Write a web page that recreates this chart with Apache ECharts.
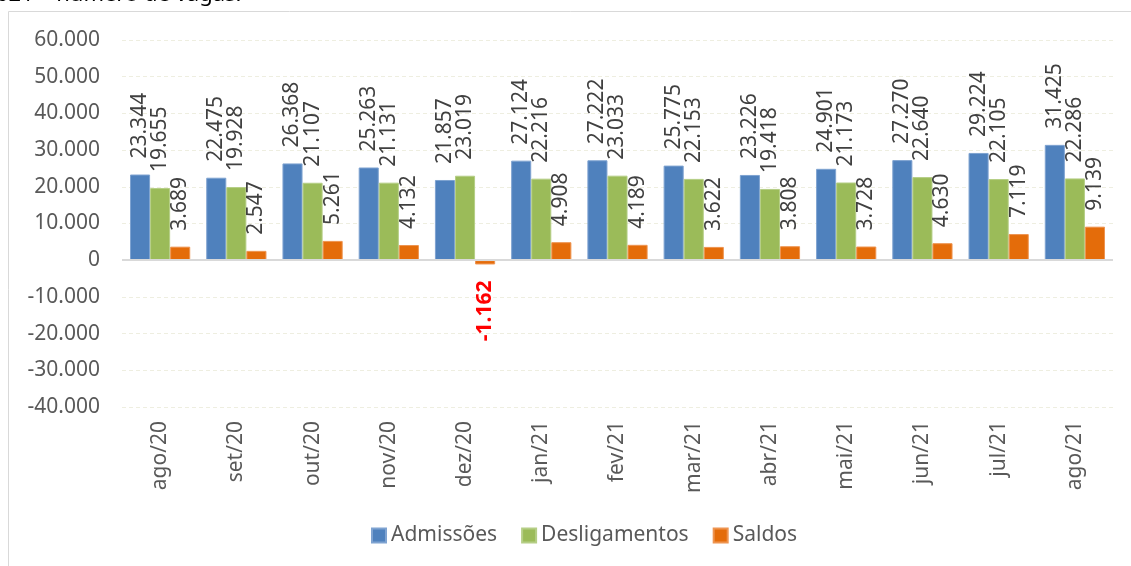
<!DOCTYPE html>
<html>
<head>
<meta charset="utf-8">
<script src="https://cdn.jsdelivr.net/npm/echarts@6/dist/echarts.min.js"></script>
<style>
html,body{margin:0;padding:0;background:#fff;}
#main{width:1131px;height:566px;}
</style>
</head>
<body>
<div id="main"></div>
<script>
var months=['ago/20','set/20','out/20','nov/20','dez/20','jan/21','fev/21','mar/21','abr/21','mai/21','jun/21','jul/21','ago/21'];
var admissoes=[23344,22475,26368,25263,21857,27124,27222,25775,23226,24901,27270,29224,31425];
var desligamentos=[19655,19928,21107,21131,23019,22216,23033,22153,19418,21173,22640,22105,22286];
var saldos=[3689,2547,5261,4132,-1162,4908,4189,3622,3808,3728,4630,7119,9139];
var seriesNames=['Admissões','Desligamentos','Saldos'];
var colors=['#4F81BD','#9BBB59','#E46C0A'];
var FONT='"Noto Sans", sans-serif';

function fmt(v){
    var s=Math.abs(v).toString().replace(/\B(?=(\d{3})+(?!\d))/g,'.');
    return (v<0?'-':'')+s;
}

var chartDom=document.getElementById('main');
var myChart=echarts.init(chartDom);

var labelBase={
    show:true,
    position:'top',
    distance:16,
    rotate:90,
    align:'left',
    verticalAlign:'middle',
    color:'#404040',
    fontFamily:FONT,
    fontSize:21,
    formatter:function(p){return fmt(p.value);}
};

function makeData(arr){
    return arr.map(function(v){
        if(v<0){
            return {value:v,label:{position:'bottom',align:'right',color:'#FF0000',fontWeight:'bold'}};
        }
        return v;
    });
}

var option={
    animation:false,
    graphic:[
        {type:'rect',shape:{x:8.5,y:11.5,width:1300,height:700},style:{fill:null,stroke:'#D9D9D9',lineWidth:1},silent:true},
        {type:'text',left:-4,top:-16,style:{text:'021 – número de vagas.',font:'22px '+FONT,fill:'#000'}}
    ],
    legend:{
        data:seriesNames,
        bottom:15,
        left:366,
        itemWidth:14,
        itemHeight:14,
        itemGap:24,
        icon:'rect',
        textStyle:{color:'#595959',fontFamily:FONT,fontSize:21}
    },
    grid:{left:122,right:18,top:40,bottom:159},
    xAxis:{
        type:'category',
        data:months,
        axisLine:{show:false,onZero:false},
        axisTick:{show:false},
        axisLabel:{rotate:90,margin:14,color:'#595959',fontFamily:FONT,fontSize:21}
    },
    yAxis:{
        type:'value',
        min:-40000,
        max:60000,
        interval:10000,
        axisLine:{show:false},
        axisTick:{show:false},
        axisLabel:{margin:22,color:'#595959',fontFamily:FONT,fontSize:21,formatter:function(v){return fmt(v);}},
        splitLine:{lineStyle:{color:'#EEEEE0',type:[4,3],width:1}}
    },
    series:[
        {
            name:seriesNames[0],type:'bar',data:makeData(admissoes),
            barGap:'0%',barCategoryGap:'21%',
            itemStyle:{color:colors[0],borderColor:'#7FA3D1',borderWidth:1},
            label:labelBase
        },
        {
            name:seriesNames[1],type:'bar',data:makeData(desligamentos),
            barGap:'0%',barCategoryGap:'21%',
            itemStyle:{color:colors[1],borderColor:'#B5CE86',borderWidth:1},
            label:labelBase
        },
        {
            name:seriesNames[2],type:'bar',data:makeData(saldos),
            barGap:'0%',barCategoryGap:'21%',
            itemStyle:{color:colors[2],borderColor:'#EE9450',borderWidth:1},
            label:labelBase,
            markLine:{
                silent:true,symbol:'none',
                label:{show:false},
                lineStyle:{color:'#D9D9D9',width:2,type:'solid'},
                data:[{yAxis:0}]
            }
        }
    ]
};

option && myChart.setOption(option);
</script>
</body>
</html>
